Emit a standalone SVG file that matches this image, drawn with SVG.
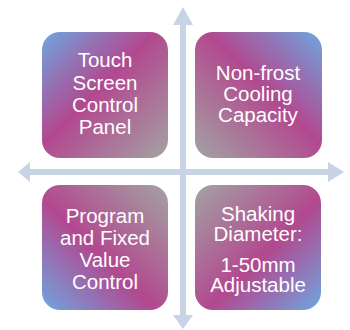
<svg xmlns="http://www.w3.org/2000/svg" width="350" height="330" viewBox="0 0 350 330">
<defs>
<linearGradient id="gTL" x1="0" y1="0" x2="1" y2="1">
<stop offset="0" stop-color="#6ea6e0"/><stop offset="0.45" stop-color="#b2488f"/><stop offset="1" stop-color="#a3a3a3"/>
</linearGradient>
<linearGradient id="gTR" x1="1" y1="0" x2="0" y2="1">
<stop offset="0" stop-color="#6ea6e0"/><stop offset="0.45" stop-color="#b2488f"/><stop offset="1" stop-color="#a3a3a3"/>
</linearGradient>
<linearGradient id="gBL" x1="0" y1="1" x2="1" y2="0">
<stop offset="0" stop-color="#6ea6e0"/><stop offset="0.45" stop-color="#b2488f"/><stop offset="1" stop-color="#a3a3a3"/>
</linearGradient>
<linearGradient id="gBR" x1="1" y1="1" x2="0" y2="0">
<stop offset="0" stop-color="#6ea6e0"/><stop offset="0.45" stop-color="#b2488f"/><stop offset="1" stop-color="#a3a3a3"/>
</linearGradient>
</defs>
<style>
.ar{fill:#c8d3e6}
.t{font-family:"Liberation Sans",Arial,sans-serif;font-size:20.5px;fill:#ffffff;text-anchor:middle}
</style>
<rect width="350" height="330" fill="#ffffff"/>
<g id="connectors">
<rect class="ar" x="180" y="24" width="6" height="292"/>
<polygon class="ar" points="183,7 193,25 173,25"/>
<polygon class="ar" points="183,329 193,315 173,315"/>
<rect class="ar" x="29" y="169" width="300" height="6"/>
<polygon class="ar" points="18,172 30,162 30,182"/>
<polygon class="ar" points="344,172 328,162 328,182"/>
</g>
<g id="node-tl">
<rect x="42" y="32" width="126" height="126" rx="18" fill="url(#gTL)"/>
<text class="t" x="105" y="67">Touch</text>
<text class="t" x="105" y="89.5">Screen</text>
<text class="t" x="105" y="112">Control</text>
<text class="t" x="105" y="133.5">Panel</text>
</g>
<g id="node-tr">
<rect x="195" y="32" width="127" height="126" rx="18" fill="url(#gTR)"/>
<text class="t" x="258" y="79.5">Non-frost</text>
<text class="t" x="258" y="101">Cooling</text>
<text class="t" x="258" y="121.5">Capacity</text>
</g>
<g id="node-bl">
<rect x="42" y="185" width="126" height="125" rx="18" fill="url(#gBL)"/>
<text class="t" x="105" y="223">Program</text>
<text class="t" x="105" y="245">and Fixed</text>
<text class="t" x="105" y="267">Value</text>
<text class="t" x="105" y="288.5">Control</text>
</g>
<g id="node-br">
<rect x="195" y="185" width="126" height="125" rx="18" fill="url(#gBR)"/>
<text class="t" x="258" y="220.5">Shaking</text>
<text class="t" x="258" y="241">Diameter:</text>
<text class="t" x="258" y="272">1-50mm</text>
<text class="t" x="258" y="292">Adjustable</text>
</g>
</svg>
